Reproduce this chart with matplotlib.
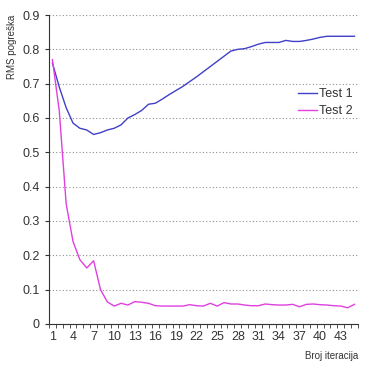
import numpy as np
import matplotlib
matplotlib.use("Agg")
import matplotlib.pyplot as plt

plt.rcParams["font.family"] = ["Liberation Sans", "DejaVu Sans"]

iterations = list(range(1, 46))
test1 = [0.76, 0.69, 0.63, 0.585, 0.57, 0.565, 0.552, 0.557, 0.565, 0.57,
         0.58, 0.60, 0.61, 0.622, 0.64, 0.643, 0.655, 0.668, 0.68, 0.692,
         0.706, 0.72, 0.735, 0.75, 0.765, 0.78, 0.795, 0.80, 0.802, 0.808,
         0.815, 0.82, 0.82, 0.82, 0.826, 0.823, 0.823, 0.826, 0.83, 0.835,
         0.838, 0.838, 0.838, 0.838, 0.838]
test2 = [0.77, 0.62, 0.35, 0.24, 0.187, 0.163, 0.184, 0.10, 0.064, 0.052,
         0.06, 0.055, 0.065, 0.063, 0.06, 0.053, 0.052, 0.052, 0.052, 0.052,
         0.056, 0.053, 0.052, 0.06, 0.052, 0.062, 0.058, 0.058, 0.055, 0.053,
         0.053, 0.058, 0.056, 0.055, 0.055, 0.057, 0.05, 0.057, 0.058, 0.056,
         0.055, 0.053, 0.052, 0.047, 0.057]
y_ticks = [0, 0.1, 0.2, 0.3, 0.4, 0.5, 0.6, 0.7, 0.8, 0.9]
y_labels = ["0", "0.1", "0.2", "0.3", "0.4", "0.5", "0.6", "0.7", "0.8", "0.9"]

fig = plt.figure(figsize=(3.74, 3.66), dpi=100)
ax = fig.add_axes([0.131, 0.115, 0.826, 0.844])

ax.plot(iterations, test1, color="#4040c8", lw=1.0, label="Test 1")
ax.plot(iterations, test2, color="#e040e0", lw=1.0, label="Test 2")

ax.set_xlim(0.5, 45.5)
ax.set_ylim(0, 0.9)
ax.set_yticks(y_ticks)
ax.set_yticklabels(y_labels)
ax.set_xticks(iterations[::3])
ax.set_xticks(np.arange(0.5, 46, 1), minor=True)
ax.tick_params(axis="x", which="major", length=0, pad=5, labelsize=9, colors="#333333")
ax.tick_params(axis="x", which="minor", length=3, direction="out", color="#333333")
ax.tick_params(axis="y", length=3, direction="out", labelsize=9, colors="#333333")

ax.grid(axis="y", linestyle=(0, (1, 2)), color="#909090", lw=0.8)
for s in ["top", "right"]:
    ax.spines[s].set_visible(False)
for s in ["left", "bottom"]:
    ax.spines[s].set_color("#333333")

leg = ax.legend(loc="upper right", bbox_to_anchor=(1.02, 0.80), frameon=False,
                fontsize=9, handlelength=1.5, handletextpad=0.2, labelspacing=0.4)
for t in leg.get_texts():
    t.set_color("#333333")

fig.text(0.032, 0.96, "RMS pogreška", rotation=90, ha="center", va="top",
         fontsize=7, color="#333333")
fig.text(0.957, 0.015, "Broj iteracija", ha="right", va="bottom",
         fontsize=7, color="#333333")

fig.savefig("out.png", dpi=100)
